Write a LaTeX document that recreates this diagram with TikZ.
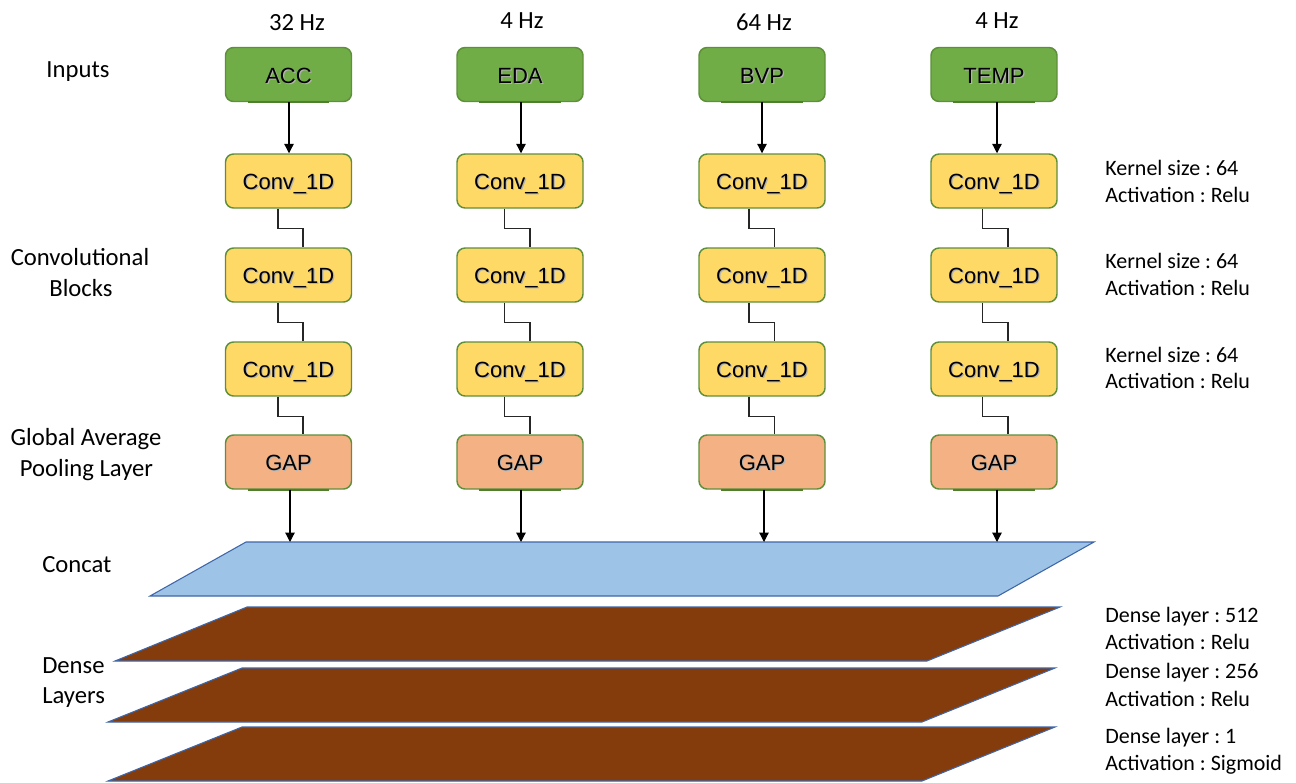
\documentclass[tikz,border=0pt]{standalone}
\usepackage{fontspec}
\setmainfont{Carlito}
\newfontfamily\blockfont{Liberation Sans}
\usetikzlibrary{arrows.meta,calc}
\frenchspacing

\definecolor{inputgreen}{HTML}{70AD47}
\definecolor{convyellow}{HTML}{FFD966}
\definecolor{gaporange}{HTML}{F4B183}
\definecolor{boxedge}{HTML}{5E8F3A}
\definecolor{portgreen}{HTML}{4E7F2C}
\definecolor{concatblue}{HTML}{9DC3E6}
\definecolor{layeredge}{HTML}{3F66A8}
\definecolor{densebrown}{HTML}{843C0C}

% label with a soft drop shadow, as used inside the blocks
\newcommand\shadowtext[1]{\makebox[0pt][l]{\hspace{0.9pt}\raisebox{-0.9pt}{\textcolor{black!30}{#1}}}#1}

\begin{document}
\begin{tikzpicture}[x=0.75pt,y=-0.75pt,
  block/.style={rounded corners=6pt, draw=boxedge, line width=1.1pt,
    minimum width=94.5pt, minimum height=40.5pt, inner sep=0pt,
    text height=13pt, text depth=0pt,
    font=\blockfont\fontsize{16.5}{19}\selectfont},
  inbox/.style={block, fill=inputgreen},
  convbox/.style={block, fill=convyellow},
  gapbox/.style={block, fill=gaporange},
  feed/.style={-{Triangle[length=7pt,width=7pt]}, line width=0.9pt},
  link/.style={line width=0.9pt, draw=black!85},
  port/.style={draw=portgreen, line width=1.8pt},
  label/.style={font=\fontsize{18.5}{22}\selectfont, inner sep=0pt, anchor=base},
  note/.style={font=\fontsize{16.5}{20}\selectfont, inner sep=0pt, anchor=base west},
  layer/.style={draw=layeredge, line width=0.8pt, line join=miter}
]
\useasboundingbox (0,0) rectangle (1296,782);

% concatenation and dense layers
\draw[layer, fill=concatblue] (246,542) coordinate (concatTL) -- (1094,542) -- (998,596) -- (150,596) -- cycle;
\draw[layer, fill=densebrown] (247,607) -- (1060,607) -- (927,661) -- (115,661) -- cycle;
\draw[layer, fill=densebrown] (242,668) -- (1055,668) -- (922,722) -- (108,722) -- cycle;
\draw[layer, fill=densebrown] (242,727) -- (1055,727) -- (922,781) -- (108,781) -- cycle;

% one branch per sensor signal
\foreach \n/\cx/\lab/\dl/\dr/\ax/\gx in {a/288.5/ACC/-10.5/14.5/0.5/1.5, b/520/EDA/-15.5/10/1/1, c/762/BVP/-13/12.5/0/2, d/994/TEMP/-11.5/14/3/3}{
  \node[inbox]   (in\n)  at (\cx,74.5) {\shadowtext{\lab}};
  \node[convbox] (ca\n)  at (\cx,181)  {\shadowtext{Conv\_1D}};
  \node[convbox] (cb\n)  at (\cx,275)  {\shadowtext{Conv\_1D}};
  \node[convbox] (cc\n)  at (\cx,369)  {\shadowtext{Conv\_1D}};
  \node[gapbox]  (gap\n) at (\cx,462)  {\shadowtext{GAP}};
  \draw[port] ([xshift=17.25pt]in\n.south west) -- ([xshift=-17.25pt]in\n.south east);
  \draw[port] ([xshift=17.25pt]gap\n.south west) -- ([xshift=-17.25pt]gap\n.south east);
  \draw[feed] ([shift={(\ax,0)}]in\n.south) -- ([shift={(\ax,0)}]ca\n.north);
  \draw[link] ([shift={(\dl,0)}]ca\n.south) -- ++(0,20) -| ([shift={(\dr,0)}]cb\n.north);
  \draw[link] ([shift={(\dl,0)}]cb\n.south) -- ++(0,20) -| ([shift={(\dr,0)}]cc\n.north);
  \draw[link] ([shift={(\dl,0)}]cc\n.south) -- ++(0,20) -| ([shift={(\dr,0)}]gap\n.north);
  \coordinate (gs\n) at ([shift={(\gx,0)}]gap\n.south);
  \draw[feed] (gs\n) -- (gs\n |- concatTL);
}

% sampling rates
\node[label] (hzA) at (297,30) {32 Hz};
\node[label] (hzB) at (522,28) {4 Hz};
\node[label] (hzC) at (764,30) {64 Hz};
\node[label] (hzD) at (997,28) {4 Hz};

% stage names
\node[label] (stInputs) at (78,77) {Inputs};
\node[label] (stConvA) at (80,265) {Convolutional};
\node[label] (stConvB) at (81,296) {Blocks};
\node[label] (stGapA) at (86,445) {Global Average};
\node[label] (stGapB) at (86.5,476) {Pooling Layer};
\node[label, anchor=base west] (stConcat) at (42,572) {Concat};
\node[label, anchor=base west] (stDenseA) at (42,673) {Dense};
\node[label, anchor=base west] (stDenseB) at (42,703) {Layers};

% layer settings
\node[note] (kA1) at (1105,175) {Kernel size : 64};
\node[note] (kA2) at (1105,202) {Activation : Relu};
\node[note] (kB1) at (1105,268) {Kernel size : 64};
\node[note] (kB2) at (1105,295) {Activation : Relu};
\node[note] (kC1) at (1105,362) {Kernel size : 64};
\node[note] (kC2) at (1105,388) {Activation : Relu};
\node[note] (dA1) at (1105,622) {Dense layer : 512};
\node[note] (dA2) at (1105,649) {Activation : Relu};
\node[note] (dB1) at (1105,678) {Dense layer : 256};
\node[note] (dB2) at (1105,706) {Activation : Relu};
\node[note] (dC1) at (1105,743) {Dense layer : 1};
\node[note] (dC2) at (1105,770) {Activation : Sigmoid};
\end{tikzpicture}
\end{document}
